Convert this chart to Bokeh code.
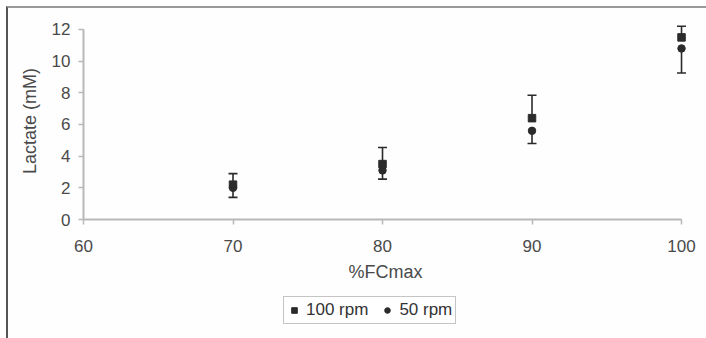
from bokeh.plotting import figure
from bokeh.layouts import column
from bokeh.models import Range1d, Whisker, TeeHead, ColumnDataSource, Legend, LegendItem, FixedTicker
from bokeh.embed import file_html
from bokeh.resources import INLINE

fc_max = [70, 80, 90, 100]
rpm100 = [2.2, 3.5, 6.4, 11.5]
rpm100_upper = [2.9, 4.55, 7.85, 12.2]
rpm50 = [2.0, 3.1, 5.6, 10.8]
rpm50_lower = [1.4, 2.55, 4.8, 9.25]
x_ticks = [60, 70, 80, 90, 100]
y_ticks = [0, 2, 4, 6, 8, 10, 12]
series_names = ["100 rpm", "50 rpm"]

FONT = "Liberation Sans"
TXT = "#4a4a4a"
DARK = "#2b2b2b"
BG = "#fefefe"

p = figure(width=698, height=280, output_backend="svg", toolbar_location=None,
           x_range=Range1d(60, 100.4), y_range=Range1d(0, 12.44),
           min_border_left=75, min_border_right=19, min_border_top=14, min_border_bottom=69,
           background_fill_color=BG, border_fill_color=BG, outline_line_color=None)
p.grid.visible = False

s100 = ColumnDataSource(dict(x=fc_max, y=rpm100, up=rpm100_upper))
s50 = ColumnDataSource(dict(x=fc_max, y=rpm50, lo=rpm50_lower))

w1 = Whisker(source=s100, base="x", lower="y", upper="up", line_color=DARK, line_width=1.6,
             upper_head=TeeHead(size=9, line_color=DARK, line_width=1.6), lower_head=None)
w2 = Whisker(source=s50, base="x", lower="lo", upper="y", line_color=DARK, line_width=1.6,
             lower_head=TeeHead(size=9, line_color=DARK, line_width=1.6), upper_head=None)
p.add_layout(w1)
p.add_layout(w2)

p.scatter("x", "y", source=s100, marker="square", size=7.5, fill_color=DARK, line_color=DARK)
p.scatter("x", "y", source=s50, marker="circle", size=7.5, fill_color=DARK, line_color=DARK)

for ax in (p.xaxis[0], p.yaxis[0]):
    ax.axis_line_color = "#b8b8b8"
    ax.axis_line_width = 2
    ax.major_tick_line_color = "#b8b8b8"
    ax.major_tick_line_width = 1.5
    ax.major_tick_in = 0
    ax.major_tick_out = 5
    ax.minor_tick_line_color = None
    ax.major_label_text_font = FONT
    ax.major_label_text_font_size = "17px"
    ax.major_label_text_color = TXT
    ax.axis_label_text_font = FONT
    ax.axis_label_text_font_size = "18px"
    ax.axis_label_text_color = TXT
    ax.axis_label_text_font_style = "normal"

p.xaxis.ticker = FixedTicker(ticks=x_ticks)
p.yaxis.ticker = FixedTicker(ticks=y_ticks)
p.xaxis.bounds = (60, 100)
p.yaxis.bounds = (0, 12)
p.xaxis.axis_label = "%FCmax"
p.yaxis.axis_label = "Lactate (mM)"
p.xaxis.major_label_standoff = 15
p.yaxis.major_label_standoff = 8
p.xaxis.axis_label_standoff = 7
p.yaxis.axis_label_standoff = 9

# legend in its own small figure below the chart (frames are aligned by the column)
lf = figure(width=698, height=51, output_backend="svg", toolbar_location=None,
            x_range=Range1d(0, 1), y_range=Range1d(0, 1),
            min_border_left=0, min_border_right=0, min_border_top=0, min_border_bottom=0,
            background_fill_color=BG, border_fill_color=BG, outline_line_color=None)
lf.axis.visible = False
lf.grid.visible = False
e1 = lf.scatter("x", "y", source=s100, marker="square", fill_color=DARK, line_color=DARK)
e2 = lf.scatter("x", "y", source=s50, marker="circle", fill_color=DARK, line_color=DARK)

legend = Legend(items=[LegendItem(label=series_names[0], renderers=[e1]),
                       LegendItem(label=series_names[1], renderers=[e2])],
                orientation="horizontal", location=(200, 15))
legend.label_text_font = FONT
legend.label_text_font_size = "17px"
legend.label_text_color = "#333333"
legend.glyph_width = 14
legend.glyph_height = 14
legend.label_standoff = 5
legend.spacing = 12
legend.padding = 3
legend.margin = 0
legend.border_line_color = "#8a8a8a"
legend.border_line_width = 1.5
legend.background_fill_color = "white"
lf.add_layout(legend, "center")

layout = column(p, lf, spacing=0,
                styles={"margin-left": "6px", "margin-top": "6px",
                        "border-left": "2px solid #555555", "border-top": "2px solid #999999"})

open("out.html", "w").write(file_html(layout, INLINE))
